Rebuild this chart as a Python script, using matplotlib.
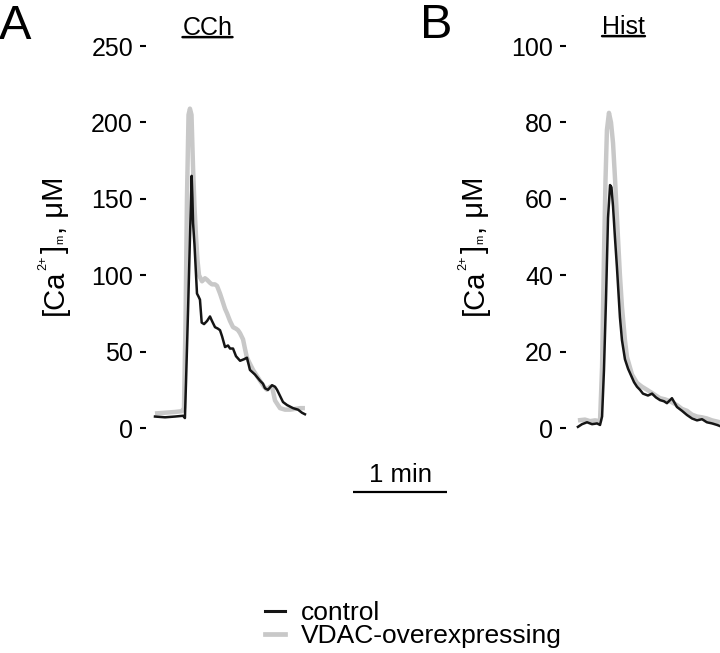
import matplotlib
matplotlib.use("Agg")
import matplotlib.pyplot as plt
from matplotlib.lines import Line2D

plt.rcParams['font.family'] = ['Liberation Sans', 'DejaVu Sans']

# ---------------- data (time in s, [Ca2+]m in uM) ----------------
cch_ctrl_t = [0, 6.4, 12.8, 17.9, 19.1, 19.8, 21.1, 22.3, 23.4, 23.9, 24.3, 25.2, 26.2, 26.8, 27.8,
              28.7, 29.8, 31.3, 33.2, 35.1, 36.4, 38.3, 40.2, 41.5, 42.8, 44.7, 46.6, 47.9, 49.8, 51.7,
              54.3, 56.8, 58.7, 60.6, 63.8, 67.0, 68.9, 70.2, 72.1, 74.7, 76.6, 77.9, 79.8, 81.7, 84.3,
              88.1, 91.3, 93.8, 95.7]
cch_ctrl_v = [7.5, 7, 7.5, 8, 6.5, 30, 77, 124, 165, 150, 134, 120, 100, 88, 86,
              84, 69, 68, 70, 73, 70, 66, 65, 64, 60, 53, 54, 52, 52, 47,
              44, 45, 46, 38, 35, 31, 29, 26, 25, 28, 27, 25, 21, 17, 15,
              13, 12, 10, 9]
cch_vdac_t = [0, 6.4, 12.8, 17.2, 18.5, 19.5, 20.4, 21.4, 22.3, 23.3, 24.3, 25.2, 26.2, 27.1, 28.1,
              30.0, 31.9, 33.2, 35.1, 36.4, 38.3, 39.6, 41.5, 42.8, 44.7, 46.0, 47.9, 49.8, 51.7, 53.0,
              54.3, 56.2, 57.4, 58.7, 60.6, 62.6, 65.1, 67.0, 69.6, 71.5, 73.4, 74.7, 76.6, 78.5, 79.8,
              83.0, 86.2, 89.4, 92.6, 95.7]
cch_vdac_v = [9.5, 10, 10.5, 11, 13, 70, 150, 205, 209, 205, 170, 145, 125, 110, 100,
              96, 98, 97, 95, 94, 94, 93, 88, 84, 78, 75, 70, 66, 65, 64,
              62, 58, 52, 46, 42, 38, 34, 31, 27, 25, 27, 27, 18, 15, 13,
              12, 12, 12.5, 13, 13]

hist_ctrl_t = [0.6, 3.2, 6.4, 9.6, 12.8, 14.7, 16.0, 17.2, 18.5, 19.8, 21.1, 22.0, 23.0, 24.2, 25.5,
               27.4, 28.7, 30.6, 32.6, 33.8, 36.4, 38.3, 40.2, 42.1, 45.3, 47.9, 50.4, 53.0, 55.5, 57.4,
               60.6, 63.8, 67.0, 70.2, 73.4, 76.6, 79.8, 82.9, 86.2, 89.4, 91.3]
hist_ctrl_v = [0.3, 1.0, 1.5, 1.0, 1.2, 0.8, 3, 15, 33.5, 55, 63.6, 63, 58, 50, 42,
               29, 23, 18, 15.5, 14.4, 12, 10.8, 10, 9, 8.5, 9, 8, 7.3, 7, 6.5,
               7.8, 5.5, 4.5, 3.4, 2.5, 2, 2.3, 1.5, 1.2, 0.8, 0.5]
hist_vdac_t = [0.6, 5.1, 8.3, 11.5, 14.7, 16.0, 17.2, 18.2, 19.1, 20.4, 21.7, 23.0, 24.3, 25.5, 27.4,
               28.7, 30.6, 31.9, 35.1, 38.3, 41.5, 44.7, 48.5, 53.0, 56.2, 59.4, 63.8, 67.0, 70.2, 73.4,
               76.6, 79.8, 82.9, 86.2, 91.3]
hist_vdac_v = [2, 2.2, 1.8, 2, 1.8, 16, 45, 65, 78, 82.5, 80, 74.6, 65, 55, 40,
               31.7, 23, 18.6, 14, 11.8, 10.8, 10, 9, 7.8, 7.5, 7, 6, 5, 4.5, 3.5,
               3, 2.8, 2.5, 2, 1.5]

cch_ticks = [0, 50, 100, 150, 200, 250]
hist_ticks = [0, 20, 40, 60, 80, 100]
series_labels = ['control', 'VDAC-overexpressing']
scale_bar_s = 60

GRAY = '#c8c8c8'
BLACK = '#151515'
W, H = 720, 653

fig = plt.figure(figsize=(7.2, 6.53), dpi=100)

def px_axes(l, t, r, b):
    return fig.add_axes([l / W, 1 - b / H, (r - l) / W, (b - t) / H])

axA = px_axes(146, 46, 310, 428)
axB = px_axes(566, 46, 720, 428)

for ax, tv, vv, tc, vc, ticks, xl in [
        (axA, cch_vdac_t, cch_vdac_v, cch_ctrl_t, cch_ctrl_v, cch_ticks, (-5.74, 98.93)),
        (axB, hist_vdac_t, hist_vdac_v, hist_ctrl_t, hist_ctrl_v, hist_ticks, (-7.02, 91.27))]:
    ax.plot(tv, vv, color=GRAY, lw=3.2, solid_joinstyle='round', solid_capstyle='butt', clip_on=False)
    ax.plot(tc, vc, color=BLACK, lw=1.8, solid_joinstyle='round', clip_on=False)
    ax.set_xlim(*xl)
    ax.set_ylim(ticks[0], ticks[-1])
    ax.set_yticks(ticks)
    ax.set_yticklabels([str(t) for t in ticks])
    for s in ax.spines.values():
        s.set_visible(False)
    ax.set_xticks([])
    ax.tick_params(axis='y', length=4.3, width=1.5, pad=5.0, labelsize=18, colors='black')
    ax.patch.set_alpha(0)

# panel letters
fig.text(-1 / W, 1 - 39 / H, 'A', fontsize=35, va='baseline', ha='left')
fig.text(420 / W, 1 - 38 / H, 'B', fontsize=35, va='baseline', ha='left')

# underlined titles
def utitle(x, y, s):
    t = fig.text(x / W, 1 - y / H, s, fontsize=18, ha='center', va='baseline')
    axA.annotate('', xy=(0, 0.12), xycoords=t, xytext=(1, 0.12), textcoords=t,
                 arrowprops=dict(arrowstyle='-', lw=1.8, color='black', shrinkA=0, shrinkB=0),
                 annotation_clip=False)
    return t

utitle(207.5, 35, 'CCh')
utitle(623.5, 34, 'Hist')

# y labels built from pieces
def ylab(xr, yb):
    fs = 21
    t1 = fig.text(xr / W, 1 - yb / H, '[Ca', rotation=90, ha='right', va='bottom', fontsize=fs)
    t2 = axA.annotate('2+', xy=(0, 1), xycoords=t1, xytext=(-2.5, 0), textcoords='offset points',
                      rotation=90, ha='left', va='bottom', fontsize=9, annotation_clip=False)
    t3 = axA.annotate(']', xy=(1, 1), xycoords=(t1, t2), xytext=(0, 1.5), textcoords='offset points',
                      rotation=90, ha='right', va='bottom', fontsize=fs, annotation_clip=False)
    t4 = axA.annotate('m', xy=(1, 1), xycoords=(t1, t3), xytext=(-2.5, 0.5), textcoords='offset points',
                      rotation=90, ha='right', va='bottom', fontsize=8, annotation_clip=False)
    axA.annotate(', \u03bcM', xy=(1, 1), xycoords=(t1, t4), xytext=(0, 1), textcoords='offset points',
                 rotation=90, ha='right', va='bottom', fontsize=fs, annotation_clip=False)

ylab(69, 315)
ylab(489, 315)

# scale bar (1 min) drawn in panel A data coordinates
x0 = 126.4
ybar = -41.9
axA.plot([x0, x0 + scale_bar_s], [ybar, ybar], color='black', lw=1.6, clip_on=False,
         solid_capstyle='butt')
axA.text(x0 + scale_bar_s / 2, ybar + 3.0, '1 min', ha='center', va='bottom', fontsize=18.5,
         clip_on=False)

# legend
handles = [Line2D([], [], color=BLACK, lw=2.2), Line2D([], [], color=GRAY, lw=3.4)]
fig.legend(handles, series_labels, loc='upper left', bbox_to_anchor=(265 / W, 1 - 601 / H),
           frameon=False, fontsize=19, handlelength=0.75, handletextpad=0.6,
           labelspacing=-0.02, borderpad=0, borderaxespad=0)

fig.savefig('out.png', dpi=100)
